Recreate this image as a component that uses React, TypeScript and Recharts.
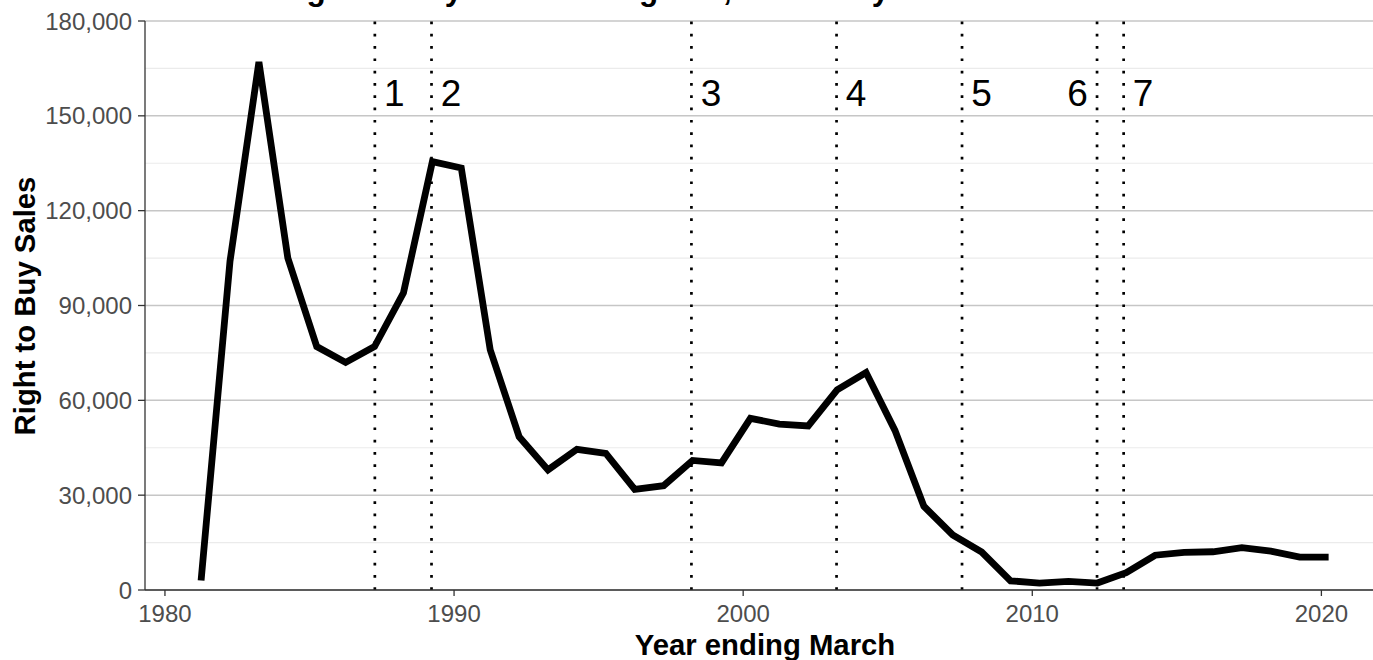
import React from 'react';
import { LineChart, Line, XAxis, YAxis, CartesianGrid, ReferenceLine } from 'recharts';

// year ending March, plotted at the end of March
const YEARS = [
  1981.25, 1982.25, 1983.25, 1984.25, 1985.25, 1986.25, 1987.25, 1988.25, 1989.25, 1990.25,
  1991.25, 1992.25, 1993.25, 1994.25, 1995.25, 1996.25, 1997.25, 1998.25, 1999.25, 2000.25,
  2001.25, 2002.25, 2003.25, 2004.25, 2005.25, 2006.25, 2007.25, 2008.25, 2009.25, 2010.25,
  2011.25, 2012.25, 2013.25, 2014.25, 2015.25, 2016.25, 2017.25, 2018.25, 2019.25, 2020.25,
];
const SALES = [
  3000, 104000, 167000, 105000, 77000, 72000, 77000, 94000, 135500, 133500,
  76000, 48500, 38000, 44500, 43200, 31800, 33000, 41000, 40200, 54300,
  52500, 51900, 63300, 68800, 50500, 26500, 17400, 12000, 2900, 2200,
  2700, 2200, 5500, 11000, 11900, 12100, 13400, 12300, 10400, 10400,
];

// policy changes marked with dotted lines
const EVENT_YEARS = [1987.26, 1989.22, 1998.21, 2003.23, 2007.57, 2012.24, 2013.16];
const EVENT_LABELS = ['1', '2', '3', '4', '5', '6', '7'];
const EVENT_SIDE = [1, 1, 1, 1, 1, -1, 1];

const X_TICKS = [1980, 1990, 2000, 2010, 2020];
const Y_TICKS = [0, 30000, 60000, 90000, 120000, 150000, 180000];
const Y_MINOR = [15000, 45000, 75000, 105000, 135000, 165000];

const data = YEARS.map((year, i) => ({ year, sales: SALES[i] }));

const FONT = '"Liberation Sans", Arial, Helvetica, sans-serif';

const EventLabel = (props: any) => {
  const { viewBox, num, side } = props;
  if (!viewBox) return null;
  return (
    <text x={viewBox.x + side * 19.5} y={viewBox.y + 85} textAnchor="middle"
      fontSize={37} fontFamily={FONT} fill="#000">
      {num}
    </text>
  );
};

export default function App() {
  return (
    <div style={{ position: 'absolute', left: 0, top: 0, width: 1373, height: 660, overflow: 'hidden', background: '#fff' }}>
      <LineChart width={1385} height={660} data={data}
        margin={{ top: 21, right: 0, bottom: 0, left: 0 }} style={{ fontFamily: FONT }}>
        <CartesianGrid vertical={false} horizontalValues={Y_MINOR} stroke="#ebebeb" strokeWidth={1.2} />
        <CartesianGrid vertical={false} stroke="#c6c6c6" strokeWidth={1.5} />
        <XAxis dataKey="year" type="number" domain={[1979.31, 2022.2]} ticks={X_TICKS} interval={0}
          allowDataOverflow height={70} tickSize={6} tickMargin={8.5} stroke="#333" strokeWidth={1.3}
          tick={{ fill: '#4d4d4d', fontSize: 24, fontFamily: FONT }} />
        <YAxis type="number" domain={[0, 180000]} ticks={Y_TICKS} interval={0} width={145}
          tickSize={7} tickMargin={6} stroke="#333" strokeWidth={1.3}
          tickFormatter={(v: number) => v.toLocaleString('en-US')}
          tick={{ fill: '#4d4d4d', fontSize: 24, fontFamily: FONT }} />
        {EVENT_YEARS.map((x, i) => (
          <ReferenceLine key={i} x={x} stroke="#000" strokeWidth={2.7} strokeDasharray="2.7 9.6"
            label={<EventLabel num={EVENT_LABELS[i]} side={EVENT_SIDE[i]} />} />
        ))}
        <Line type="linear" dataKey="sales" stroke="#000" strokeWidth={6.8} dot={false}
          strokeLinejoin="miter" isAnimationActive={false} />
      </LineChart>
      <svg width={1373} height={660} style={{ position: 'absolute', left: 0, top: 0, pointerEvents: 'none' }}>
        {/* title sits above the top edge, only its descenders show */}
        <text x={275} y={0} fontSize={31.5} fontWeight="bold" fontFamily={FONT} fill="#000">
          Right to Buy Sales in England, over the years
        </text>
        <text transform="translate(35,306) rotate(-90)" textAnchor="middle" fontSize={29.3}
          fontWeight="bold" fontFamily={FONT} fill="#000">
          Right to Buy Sales
        </text>
        <text x={765} y={655} textAnchor="middle" fontSize={29.3} fontWeight="bold"
          fontFamily={FONT} fill="#000">
          Year ending March
        </text>
      </svg>
    </div>
  );
}
